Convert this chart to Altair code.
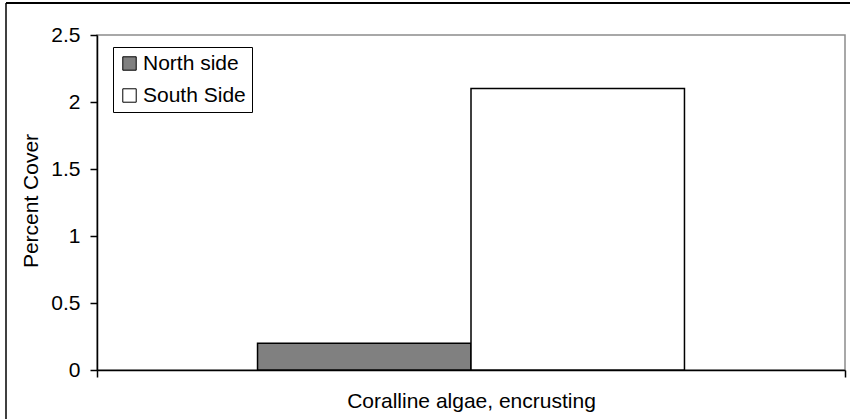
import altair as alt
import pandas as pd

# Percent cover of encrusting coralline algae, north vs south side
categories = ["Coralline algae, encrusting"]
sides = ["North side", "South Side"]
percent_cover = [0.2, 2.1]
side_colors = ["#808080", "#ffffff"]
y_ticks = [0, 0.5, 1, 1.5, 2, 2.5]

df = pd.DataFrame({
    "category": [categories[0]] * len(sides),
    "side": sides,
    "cover": percent_cover,
})

FONT = "Liberation Sans"
W, H = 748, 335

bars = alt.Chart(df).mark_bar(stroke="black", strokeWidth=1.5).encode(
    x=alt.X(
        "category:N",
        scale=alt.Scale(paddingInner=0, paddingOuter=0),
        axis=alt.Axis(
            labels=False,
            tickBand="extent",
            tickSize=7,
            tickColor="black",
            domainColor="black",
            domainWidth=1.5,
            tickWidth=1.5,
            title=categories[0],
            titleFont=FONT,
            titleFontSize=21,
            titleFontWeight="normal",
            titleColor="black",
            titleBaseline="alphabetic",
            titleY=37,
            titleX=W / 2,
        ),
    ),
    xOffset=alt.XOffset(
        "side:N",
        scale=alt.Scale(domain=sides, paddingInner=0, paddingOuter=0.752),
    ),
    y=alt.Y(
        "cover:Q",
        scale=alt.Scale(domain=[0, 2.5], nice=False),
        axis=alt.Axis(
            values=y_ticks,
            format="~g",
            grid=False,
            tickSize=7,
            tickColor="black",
            domainColor="black",
            domainWidth=1.5,
            tickWidth=1.5,
            labelPadding=10,
            labelFont=FONT,
            labelFontSize=21,
            labelColor="black",
            title="Percent Cover",
            titleFont=FONT,
            titleFontSize=21,
            titleFontWeight="normal",
            titleColor="black",
            titleBaseline="alphabetic",
            titleAngle=-90,
            titleAlign="center",
            titleX=-60,
            titleY=H / 2 - 2,
        ),
    ),
    color=alt.Color(
        "side:N",
        scale=alt.Scale(domain=sides, range=side_colors),
        legend=alt.Legend(
            title=None,
            orient="none",
            legendX=16,
            legendY=12,
            symbolType="square",
            symbolSize=180,
            symbolStrokeColor="black",
            symbolStrokeWidth=1,
            labelFont=FONT,
            labelFontSize=21,
            labelColor="black",
            labelOffset=3,
            rowPadding=10,
            padding=6,
            strokeColor="black",
            fillColor="white",
        ),
    ),
)

# Frame around the whole figure (left and top edges)
frame_data = alt.Data(values=[{}])
frame_left = alt.Chart(frame_data).mark_rule(color="black", strokeWidth=1.5).encode(
    x=alt.value(-91), y=alt.value(-32), y2=alt.value(400)
)
frame_top = alt.Chart(frame_data).mark_rule(color="black", strokeWidth=2).encode(
    x=alt.value(-91), x2=alt.value(760), y=alt.value(-32)
)

chart = alt.layer(bars, frame_left, frame_top).properties(
    width=W,
    height=H,
    autosize=alt.AutoSizeParams(type="none"),
    padding={"left": 97, "top": 35, "right": 5, "bottom": 49},
    background="white",
).configure_view(
    stroke="#8c8c8c", strokeWidth=1.5
)

chart.save("out.html", embed_options={"renderer": "svg", "actions": False})
